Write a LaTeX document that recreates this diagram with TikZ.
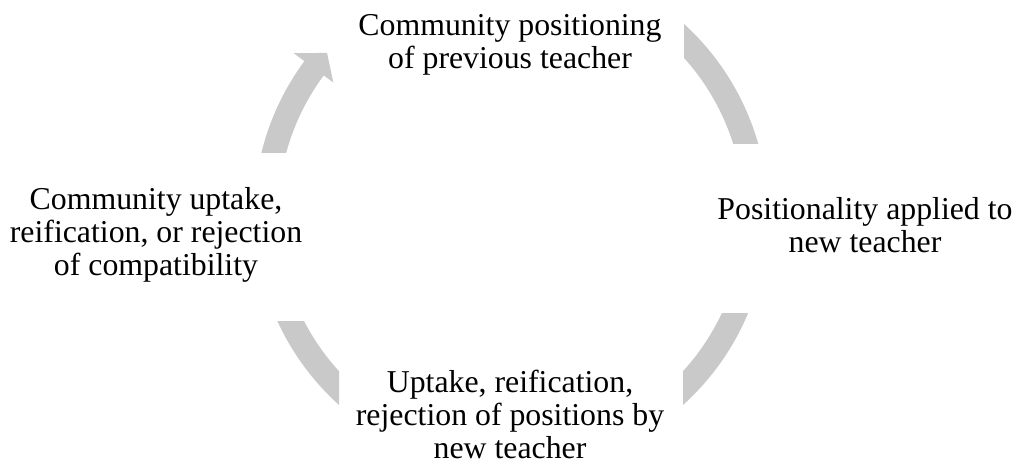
\documentclass[tikz,border=0pt]{standalone}
\usepackage{fontspec}
\setmainfont{Liberation Serif}
\definecolor{arcgrey}{RGB}{201,201,201}
\tikzset{
  lbl/.style={align=center, inner sep=0pt, font=\fontsize{31.8}{33}\selectfont},
  band/.style={fill=arcgrey, draw=none}
}
\begin{document}
\begin{tikzpicture}[x=1pt,y=1pt]
\useasboundingbox (0,0) rectangle (1020,467);
% text nodes
\node[lbl] (top) at (510,422.5) {Community positioning\\of previous teacher};
\node[lbl] (right) at (865,241.5) {Positionality applied to\\new teacher};
\node[lbl] (bottom) at (510,52.5) {Uptake, reification,\\rejection of positions by\\new teacher};
\node[lbl] (left) at (156,232) {Community uptake,\\reification, or rejection\\of compatibility};
\coordinate (c) at (511,253);
% top-left arrow (left -> top)
\begin{scope}
  \clip (0,315) rectangle (1020,467);
  \fill[band, shift={(c)}] (175:257) arc[start angle=175, end angle=143.5, radius=257]
    -- (143.5:270.5) -- (138.8:244.5) -- (143.5:221) -- (143.5:233)
    arc[start angle=143.5, end angle=175, radius=233] -- cycle;
\end{scope}
% top-right arc (top -> right)
\begin{scope}
  \clip (684,324) rectangle (1020,467);
  \fill[band, shift={(c)}] (55:257) arc[start angle=55, end angle=5, radius=257]
    -- (5:233) arc[start angle=5, end angle=55, radius=233] -- cycle;
\end{scope}
% bottom-right arc (right -> bottom)
\begin{scope}
  \clip (683,0) rectangle (1020,154);
  \fill[band, shift={(c)}] (-10:257) arc[start angle=-10, end angle=-60, radius=257]
    -- (-60:233) arc[start angle=-60, end angle=-10, radius=233] -- cycle;
\end{scope}
% bottom-left arc (bottom -> left)
\begin{scope}
  \clip (0,0) rectangle (339,146);
  \fill[band, shift={(c)}] (190:257) arc[start angle=190, end angle=240, radius=257]
    -- (240:233) arc[start angle=240, end angle=190, radius=233] -- cycle;
\end{scope}
\end{tikzpicture}
\end{document}
